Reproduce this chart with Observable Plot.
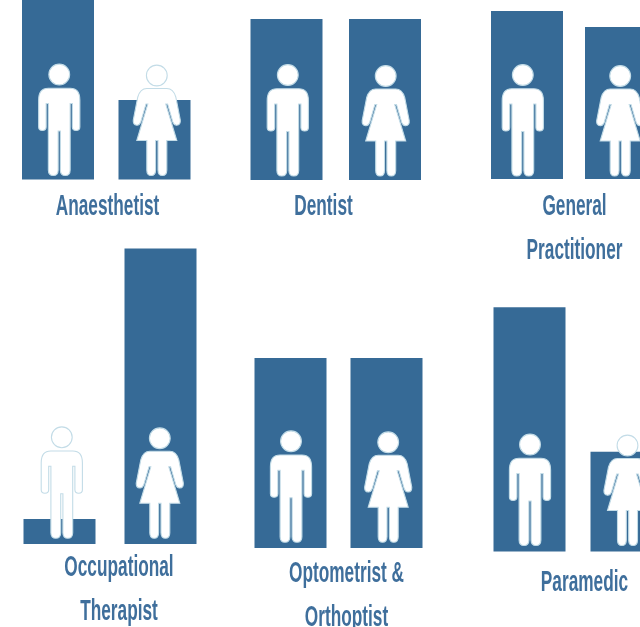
<!DOCTYPE html>
<html>
<head>
<meta charset="utf-8">
<script src="https://cdn.jsdelivr.net/npm/d3@7"></script>
<script src="https://cdn.jsdelivr.net/npm/@observablehq/plot@0.6"></script>
<style>
html,body{margin:0;padding:0;background:#fff;overflow:hidden}
#page{position:relative;width:640px;height:627px;overflow:hidden}
#page svg{position:absolute;overflow:hidden;background:transparent;filter:blur(0.35px)}
</style>
</head>
<body>
<div id="page"></div>
<script>
// Data: estimated share of each profession by sex (%)
const professions = ["Anaesthetist", "Dentist", "General\nPractitioner", "Occupational\nTherapist", "Optometrist &\nOrthoptist", "Paramedic"];
const maleShare   = [70, 50, 52.5, 7.8, 50, 71];
const femaleShare = [30, 50, 47.5, 92.2, 50, 29];
const sexes = ["Male", "Female"];

// Layout of each tile in the page (not data)
const tiles = [
  {left: 0,   top: 0,   w: 215, h: 240, x0: 22,    step: 96.5,  base: 179.5, k: 2.65,  foot: 4,   mdx: 0.75, fdx: 1.8,  lx: 107, ly: 200.5},
  {left: 235, top: 0,   w: 200, h: 240, x0: 15.5,  step: 98.5,  base: 180,   k: 3.22,  foot: 4,   mdx: 0.8,  fdx: 0.2,  lx: 88,  ly: 200.5},
  {left: 470, top: 0,   w: 170, h: 270, x0: 21,    step: 94,    base: 179,   k: 3.2,   foot: 3,   mdx: -4.7, fdx: -1.3, lx: 104, ly: 222.5},
  {left: 0,   top: 240, w: 215, h: 387, x0: 23.5,  step: 101,   base: 304,   k: 3.205, foot: 5.7, mdx: 1.8,  fdx: -1.2, lx: 118.5, ly: 343},
  {left: 235, top: 340, w: 200, h: 287, x0: 19.5,  step: 96,    base: 208,   k: 3.8,   foot: 5.7, mdx: 0,    fdx: 1.2,  lx: 111, ly: 249.5},
  {left: 470, top: 300, w: 170, h: 327, x0: 23.5,  step: 97,    base: 251.5, k: 3.44,  foot: 6,   mdx: 0,    fdx: 0.5,  lx: 114, ly: 276}
];
const barWidth = 72;
const textSqueeze = 0.595;

function male(ctx) {
  ctx.moveTo(10.4, -101.5); ctx.arc(0, -101.5, 10.4, 0, 2 * Math.PI); ctx.closePath();
  ctx.moveTo(-11, -87.8);
  ctx.lineTo(11, -87.8);
  ctx.quadraticCurveTo(20.6, -87.8, 20.6, -76);
  ctx.lineTo(20.6, -49);
  ctx.quadraticCurveTo(20.6, -45.5, 16.9, -45.5);
  ctx.quadraticCurveTo(13.1, -45.5, 13.1, -49);
  ctx.lineTo(13.1, -72.5);
  ctx.lineTo(10.9, -72.5);
  ctx.lineTo(10.9, -6);
  ctx.quadraticCurveTo(10.9, -0.5, 6, -0.5);
  ctx.quadraticCurveTo(1.1, -0.5, 1.1, -6);
  ctx.lineTo(1.1, -45);
  ctx.lineTo(-1.1, -45);
  ctx.lineTo(-1.1, -6);
  ctx.quadraticCurveTo(-1.1, -0.5, -6, -0.5);
  ctx.quadraticCurveTo(-10.9, -0.5, -10.9, -6);
  ctx.lineTo(-10.9, -72.5);
  ctx.lineTo(-13.1, -72.5);
  ctx.lineTo(-13.1, -49);
  ctx.quadraticCurveTo(-13.1, -45.5, -16.9, -45.5);
  ctx.quadraticCurveTo(-20.6, -45.5, -20.6, -49);
  ctx.lineTo(-20.6, -76);
  ctx.quadraticCurveTo(-20.6, -87.8, -11, -87.8);
  ctx.closePath();
}
function female(ctx) {
  ctx.moveTo(10.4, -100.5); ctx.arc(0, -100.5, 10.4, 0, 2 * Math.PI); ctx.closePath();
  ctx.moveTo(-10, -87.5);
  ctx.lineTo(10, -87.5);
  ctx.quadraticCurveTo(16.5, -87.5, 19, -79);
  ctx.lineTo(23.5, -56);
  ctx.quadraticCurveTo(24, -51, 20, -50.8);
  ctx.quadraticCurveTo(17.5, -50.5, 16, -54);
  ctx.lineTo(10.8, -72);
  ctx.lineTo(9, -72);
  ctx.lineTo(20, -35.5);
  ctx.lineTo(10, -35.5);
  ctx.lineTo(10, -6);
  ctx.quadraticCurveTo(10, -0.5, 5.6, -0.5);
  ctx.quadraticCurveTo(1.2, -0.5, 1.2, -6);
  ctx.lineTo(1.2, -35.5);
  ctx.lineTo(-1.2, -35.5);
  ctx.lineTo(-1.2, -6);
  ctx.quadraticCurveTo(-1.2, -0.5, -5.6, -0.5);
  ctx.quadraticCurveTo(-10, -0.5, -10, -6);
  ctx.lineTo(-10, -35.5);
  ctx.lineTo(-20, -35.5);
  ctx.lineTo(-9, -72);
  ctx.lineTo(-10.8, -72);
  ctx.lineTo(-16, -54);
  ctx.quadraticCurveTo(-17.5, -50.5, -20, -50.8);
  ctx.quadraticCurveTo(-24, -51, -23.5, -56);
  ctx.lineTo(-19, -79);
  ctx.quadraticCurveTo(-16.5, -87.5, -10, -87.5);
  ctx.closePath();
}

const page = document.getElementById("page");
professions.forEach((name, i) => {
  const t = tiles[i];
  const rows = [
    {sex: sexes[0], share: maleShare[i]},
    {sex: sexes[1], share: femaleShare[i]}
  ];
  const figure = (sex, draw, dx) => Plot.dot(rows.filter(d => d.sex === sex), {
    x: "sex", y: () => 0, r: 4, dx, dy: -t.foot,
    symbol: {draw}, fill: "white", stroke: "#c3dce7", strokeWidth: 1.1
  });
  const chart = Plot.plot({
    width: t.w, height: t.h,
    marginTop: 0, marginRight: 0, marginBottom: 0, marginLeft: 0,
    style: {background: "transparent"},
    x: {type: "band", domain: sexes, axis: null, round: false,
        range: [t.x0, t.x0 + t.step + barWidth],
        paddingInner: 1 - barWidth / t.step, paddingOuter: 0},
    y: {type: "linear", domain: [0, 100], axis: null, range: [t.base, t.base - 100 * t.k]},
    marks: [
      Plot.barY(rows, {x: "sex", y: "share", fill: "#366a96"}),
      figure(sexes[0], male, t.mdx),
      figure(sexes[1], female, t.fdx),
      Plot.text([name], {
        text: d => d, frameAnchor: "top-left", dx: t.lx, dy: t.ly,
        textAnchor: "middle", lineAnchor: "middle", lineHeight: 1.53,
        fontFamily: "'Liberation Sans',sans-serif",
        fontSize: 29, fontWeight: 700, fill: "#3f6f9c"
      })
    ]
  });
  // The reference lettering is condensed: squeeze the text horizontally about its anchor
  chart.querySelectorAll('g[aria-label="text"] text').forEach(el => {
    const prior = el.getAttribute("transform") || "";
    el.setAttribute("transform", `${prior} scale(${textSqueeze},1)`);
  });
  chart.style.left = t.left + "px";
  chart.style.top = t.top + "px";
  page.appendChild(chart);
});
</script>
</body>
</html>
